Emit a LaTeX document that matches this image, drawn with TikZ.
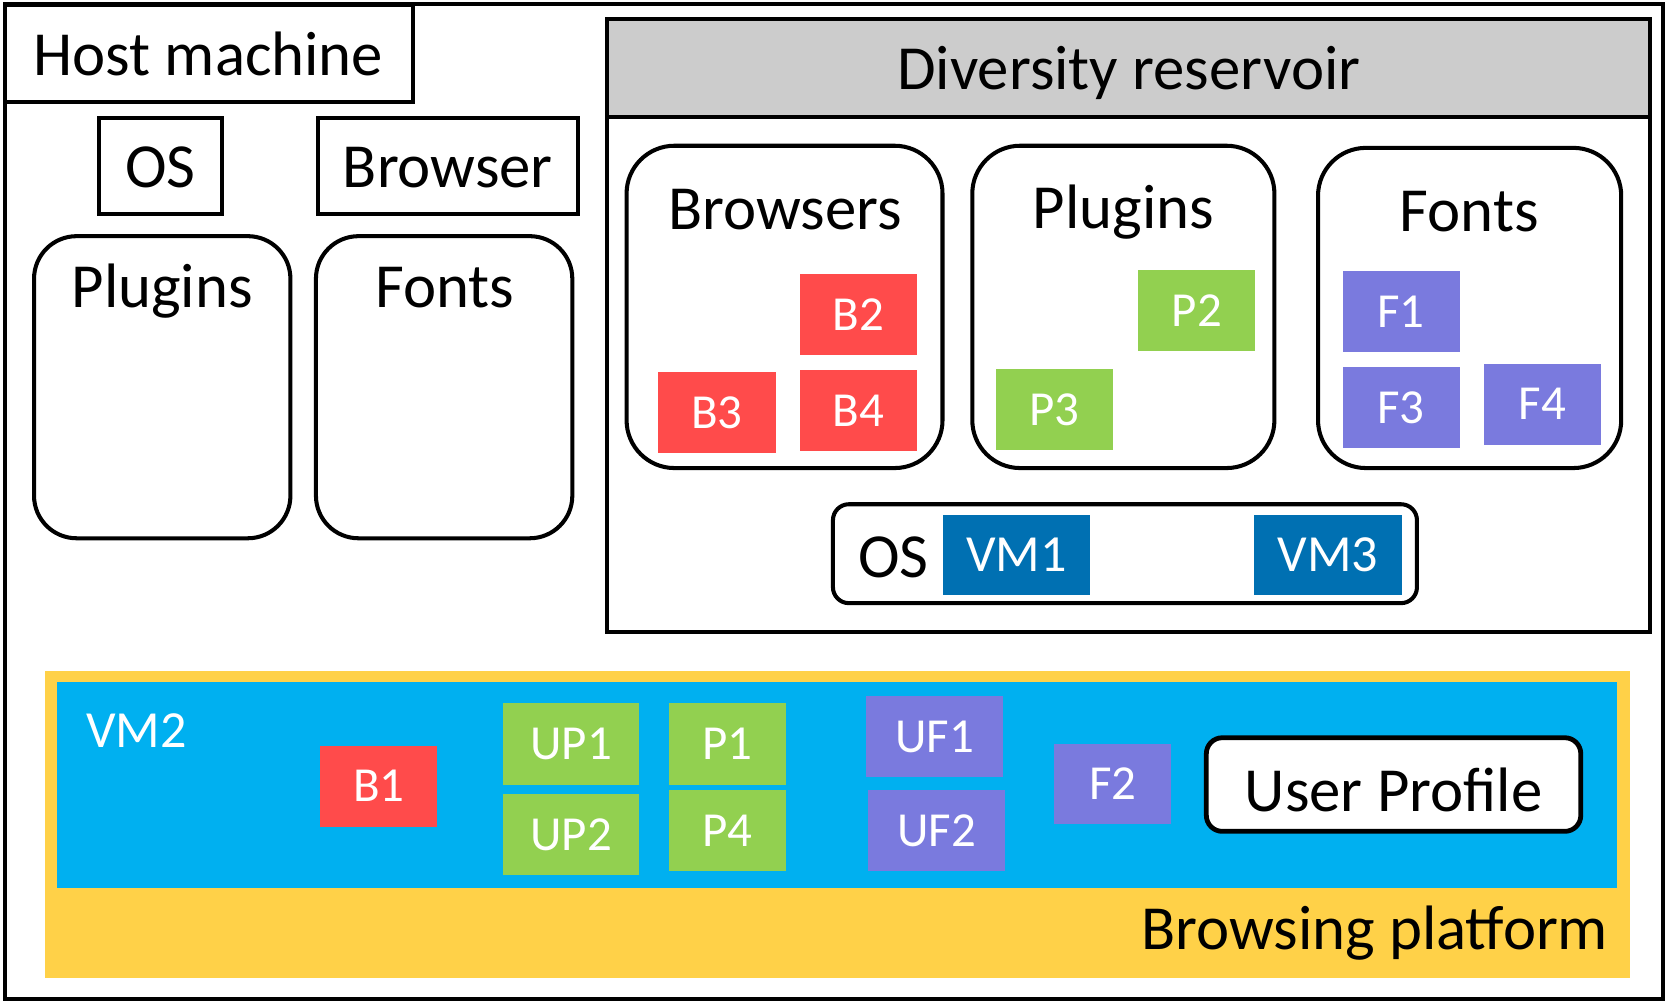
\documentclass[tikz,border=0pt]{standalone}
\usepackage{fontspec}
\setmainfont{Carlito}
\newcommand{\fsz}[1]{\fontsize{#1}{#1}\selectfont}
\definecolor{cred}{RGB}{255,75,75}
\definecolor{cgreen}{RGB}{146,208,80}
\definecolor{cpurple}{RGB}{122,122,222}
\definecolor{cvm}{RGB}{0,112,178}
\definecolor{clblue}{RGB}{0,176,240}
\definecolor{cyellow}{RGB}{255,209,72}
\definecolor{cgray}{RGB}{204,204,204}
\begin{document}
\begin{tikzpicture}[x=1pt,y=-1pt,
  bx/.style={draw, line width=3.8pt, inner sep=0pt},
  tl/.style={anchor=base, inner sep=0pt, font=\fsz{59}},
  item/.style={fill=#1, inner sep=0pt, text=white, font=\fsz{46}, minimum width=110pt, minimum height=76pt},
  vmitem/.style={fill=cvm, inner sep=0pt, text=white, font=\fsz{49}, minimum width=139pt, minimum height=75pt}
]
\useasboundingbox (0,0) rectangle (1568,942);
\fill[white] (0,0) rectangle (1568,942);
% host machine
\node[bx, minimum width=1558pt, minimum height=936pt] (host) at (784,471.5) {};
\node[bx, minimum width=383pt, minimum height=91pt] (hosttab) at (196.5,50.5) {};
\node[tl] (hosttitle) at (196,71) {Host machine};
\node[bx, minimum width=116pt, minimum height=90pt] (hos) at (151,156) {};
\node[tl] (hostext) at (151,176) {OS};
\node[bx, minimum width=244pt, minimum height=90pt] (hbrowser) at (421,156) {};
\node[tl] (hbrowsertext) at (421,176) {Browser};
\node[bx, rounded corners=40pt, minimum width=241pt, minimum height=284pt] (hplugins) at (152.5,364) {};
\node[tl] (hpluginstext) at (152.5,289) {Plugins};
\node[bx, rounded corners=40pt, minimum width=241pt, minimum height=284pt] (hfonts) at (417.5,364) {};
\node[tl] (hfontstext) at (418,289) {Fonts};
% diversity reservoir
\node[bx, minimum width=980pt, minimum height=576pt] (res) at (1061,306) {};
\node[bx, fill=cgray, minimum width=980pt, minimum height=92pt] (reshead) at (1061,64) {};
\node[tl] (restitle) at (1061,84) {Diversity reservoir};
\node[bx, rounded corners=45pt, minimum width=297pt, minimum height=303pt] (rbrowsers) at (737.5,288.5) {};
\node[tl] (rbrowserstext) at (738,215.5) {Browsers};
\node[item=cred] (b2) at (807,296) {B2};
\node[item=cred] (b3) at (674,388) {B3};
\node[item=cred] (b4) at (807,386) {B4};
\node[bx, rounded corners=45pt, minimum width=284pt, minimum height=303pt] (rplugins) at (1056,288.5) {};
\node[tl] (rpluginstext) at (1056,215) {Plugins};
\node[item=cgreen] (p2) at (1125,292) {P2};
\node[item=cgreen] (p3) at (991,385) {P3};
\node[bx, rounded corners=45pt, minimum width=285pt, minimum height=301pt] (rfonts) at (1381.5,289.5) {};
\node[tl] (rfontstext) at (1381,218) {Fonts};
\node[item=cpurple] (f1) at (1317,293) {F1};
\node[item=cpurple] (f3) at (1317,383) {F3};
\node[item=cpurple] (f4) at (1450,380) {F4};
\node[bx, rounded corners=15pt, minimum width=549pt, minimum height=93pt] (ros) at (1057.5,520.5) {};
\node[tl] (rostext) at (840,543) {OS};
\node[vmitem] (vm1) at (955.5,521.5) {VM1};
\node[vmitem] (vm3) at (1248.5,521.5) {VM3};
% browsing platform
\node[fill=cyellow, inner sep=0pt, minimum width=1490pt, minimum height=288pt] (plat) at (787,775) {};
\node[tl, anchor=base east] (plattext) at (1512,893) {Browsing platform};
\node[fill=clblue, inner sep=0pt, minimum width=1466pt, minimum height=193pt] (vm2) at (787,738) {};
\node[anchor=base west, inner sep=0pt, text=white, font=\fsz{49}] (vm2text) at (81,702.5) {VM2};
\node[item=cred] (b1) at (356,739) {B1};
\node[item=cgreen, minimum width=128pt, minimum height=77pt] (up1) at (537,699) {UP1};
\node[item=cgreen, minimum width=128pt] (up2) at (537,784.5) {UP2};
\node[item=cgreen, minimum height=77pt] (p1) at (684,699) {P1};
\node[item=cgreen] (p4) at (684,781) {P4};
\node[item=cpurple, minimum width=129pt] (uf1) at (878.5,692.5) {UF1};
\node[item=cpurple, minimum width=129pt] (uf2) at (880.5,781) {UF2};
\node[item=cpurple] (f2) at (1046,737) {F2};
\node[bx, fill=white, line width=4.5pt, rounded corners=15pt, minimum width=352pt, minimum height=88pt] (profile) at (1310,737.5) {};
\node[tl] (profiletext) at (1310,763) {User Profile};
\end{tikzpicture}
\end{document}
